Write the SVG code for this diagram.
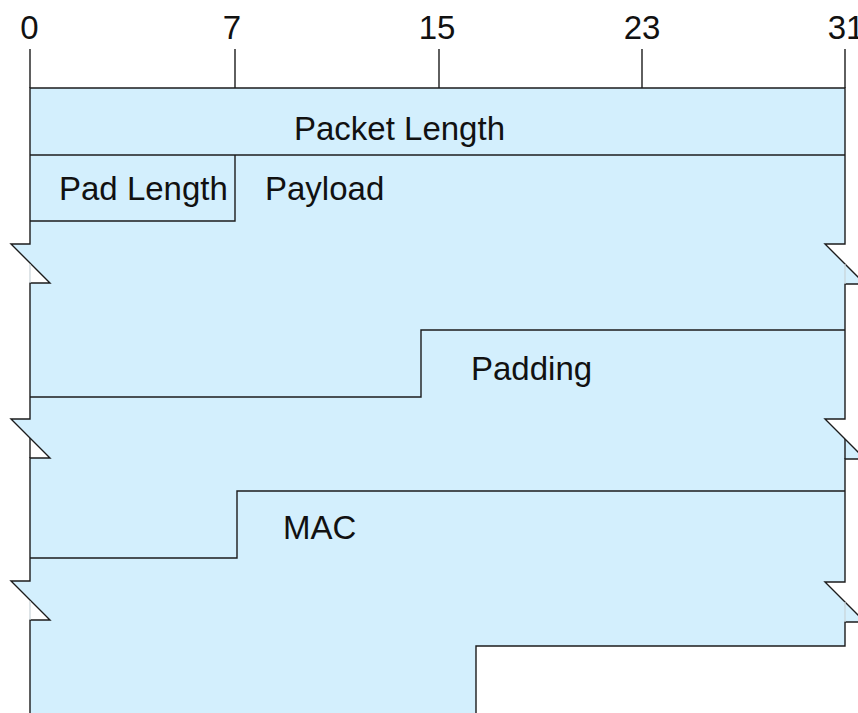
<svg xmlns="http://www.w3.org/2000/svg" width="858" height="713" viewBox="0 0 858 713">
  <style>
    .lbl { font-family: "Liberation Sans", Arial, sans-serif; font-size: 33px; fill: #111; }
    .num { text-anchor: middle; }
    .edge { fill: none; stroke: #1c1c1c; stroke-width: 1.4; }
    .tick { stroke: #1c1c1c; stroke-width: 1.4; }
    .faint { stroke: #c9d3d8; stroke-width: 1.2; }
    .body { fill: #d3effd; stroke: #1c1c1c; stroke-width: 1.4; stroke-linejoin: miter; }
  </style>

  <!-- bit ruler -->
  <g id="ruler">
    <text class="lbl num" x="29.5" y="39">0</text>
    <text class="lbl num" x="232" y="39">7</text>
    <text class="lbl num" x="437" y="39">15</text>
    <text class="lbl num" x="642" y="39">23</text>
    <text class="lbl num" x="846" y="39">31</text>
    <line class="tick" x1="30" y1="49" x2="30" y2="88"/>
    <line class="tick" x1="235" y1="49" x2="235" y2="88"/>
    <line class="tick" x1="439" y1="49" x2="439" y2="88"/>
    <line class="tick" x1="642" y1="49" x2="642" y2="88"/>
    <line class="tick" x1="845" y1="49" x2="845" y2="88"/>
  </g>

  <!-- packet outline with break marks on both sides -->
  <g id="packet">
    <path class="body" d="M30,88 H845 V244 H825 L865,284 H845 V419 H825 L865,459 H845 V582 H825 L865,622 H845 V646 H476 V720 H30 V620 H50 L11,581 H30 V458 H50 L11,419 H30 V283 H50 L11,244 H30 Z"/>
    <line class="faint" x1="30" y1="264" x2="30" y2="283"/>
    <line class="faint" x1="30" y1="601" x2="30" y2="620"/>
    <line class="faint" x1="845" y1="264" x2="845" y2="284"/>
    <line class="faint" x1="845" y1="602" x2="845" y2="622"/>
    <line class="tick" x1="30" y1="438" x2="30" y2="458"/>
    <line class="tick" x1="845" y1="439" x2="845" y2="459"/>
  </g>

  <!-- field boundaries -->
  <g id="connectors">
    <polyline class="edge" points="30,155 845,155"/>
    <polyline class="edge" points="30,221 235,221 235,155"/>
    <polyline class="edge" points="30,397 421,397 421,330 845,330"/>
    <polyline class="edge" points="30,558 237,558 237,491 845,491"/>
  </g>

  <g id="packet-length"><text class="lbl" x="294" y="140">Packet Length</text></g>
  <g id="pad-length"><text class="lbl" x="59" y="200">Pad Length</text></g>
  <g id="payload"><text class="lbl" x="265" y="200">Payload</text></g>
  <g id="padding"><text class="lbl" x="471" y="380">Padding</text></g>
  <g id="mac"><text class="lbl" x="283" y="539">MAC</text></g>
</svg>
